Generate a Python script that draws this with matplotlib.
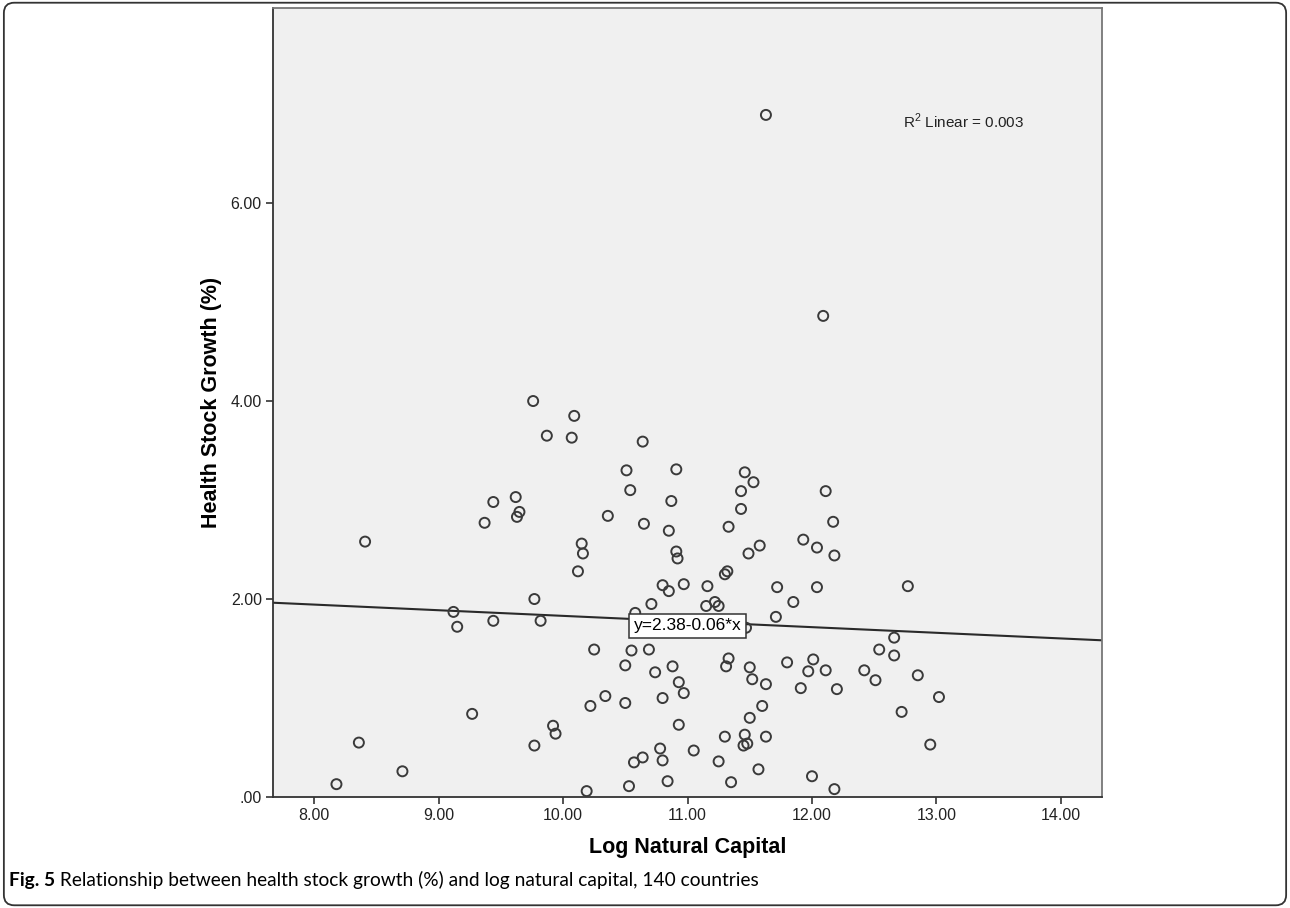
import numpy as np
import matplotlib
matplotlib.use("Agg")
import matplotlib.pyplot as plt
from matplotlib.patches import FancyBboxPatch
from matplotlib.ticker import FuncFormatter

plt.rcParams['font.family'] = ['Liberation Sans', 'DejaVu Sans']
plt.rcParams['mathtext.fontset'] = 'custom'
plt.rcParams['mathtext.rm'] = 'Liberation Sans'

# values (x = log natural capital, y = health stock growth %)
log_natural_capital = [
    9.76, 9.87, 10.09, 10.07, 10.64, 9.62, 9.44, 9.65, 9.63, 9.37,
    8.41, 9.12, 9.15, 9.44, 9.77, 9.82, 9.27, 9.92, 9.94, 9.77,
    8.36, 8.71, 8.18, 10.51, 10.91, 10.54, 10.87, 10.36, 10.65, 10.85,
    10.15, 10.16, 10.91, 10.92, 10.12, 10.80, 10.97, 11.16, 10.85, 11.46,
    11.53, 11.43, 11.43, 11.33, 11.58, 11.49, 12.11, 12.17, 11.93, 12.04,
    12.18, 11.32, 11.30, 11.72, 12.04, 10.71, 11.15, 11.22, 11.25, 10.58,
    11.47, 11.71, 11.85, 10.25, 10.55, 10.69, 10.50, 10.74, 10.88, 10.93,
    10.97, 10.34, 10.22, 10.50, 10.80, 10.93, 10.78, 10.80, 10.64, 10.57,
    11.05, 10.84, 10.53, 10.19, 11.33, 11.31, 11.50, 11.52, 11.63, 11.80,
    12.01, 11.97, 12.11, 11.91, 12.20, 11.60, 11.50, 11.30, 11.46, 11.48,
    11.45, 11.63, 11.25, 11.57, 11.35, 12.00, 12.18, 12.77, 12.66, 12.54,
    12.66, 12.42, 12.51, 12.85, 13.02, 12.72, 12.95, 11.63, 12.09,
]
health_stock_growth = [
    4.00, 3.65, 3.85, 3.63, 3.59, 3.03, 2.98, 2.88, 2.83, 2.77,
    2.58, 1.87, 1.72, 1.78, 2.00, 1.78, 0.84, 0.72, 0.64, 0.52,
    0.55, 0.26, 0.13, 3.30, 3.31, 3.10, 2.99, 2.84, 2.76, 2.69,
    2.56, 2.46, 2.48, 2.41, 2.28, 2.14, 2.15, 2.13, 2.08, 3.28,
    3.18, 3.09, 2.91, 2.73, 2.54, 2.46, 3.09, 2.78, 2.60, 2.52,
    2.44, 2.28, 2.25, 2.12, 2.12, 1.95, 1.93, 1.97, 1.93, 1.86,
    1.71, 1.82, 1.97, 1.49, 1.48, 1.49, 1.33, 1.26, 1.32, 1.16,
    1.05, 1.02, 0.92, 0.95, 1.00, 0.73, 0.49, 0.37, 0.40, 0.35,
    0.47, 0.16, 0.11, 0.06, 1.40, 1.32, 1.31, 1.19, 1.14, 1.36,
    1.39, 1.27, 1.28, 1.10, 1.09, 0.92, 0.80, 0.61, 0.63, 0.54,
    0.52, 0.61, 0.36, 0.28, 0.15, 0.21, 0.08, 2.13, 1.61, 1.49,
    1.43, 1.28, 1.18, 1.23, 1.01, 0.86, 0.53, 6.89, 4.86,
]

# fitted line as drawn in the picture
fit_intercept = 2.40
fit_slope = -0.057
fit_label = "y=2.38-0.06*x"
r2_label = r"R$^{2}$ Linear = 0.003"

x_ticks = [8, 9, 10, 11, 12, 13, 14]
y_ticks = [0, 2, 4, 6]
x_title = "Log Natural Capital"
y_title = "Health Stock Growth (%)"
caption_bold = "Fig. 5"
caption_rest = " Relationship between health stock growth (%) and log natural capital, 140 countries"

fig = plt.figure(figsize=(12.9, 9.08), dpi=100)
ax = fig.add_axes([0.2116, 0.1222, 0.6427, 0.869])
ax.set_facecolor('#f0f0f0')

ax.scatter(log_natural_capital, health_stock_growth, s=52, facecolors='none',
           edgecolors='#3a3a3a', linewidths=1.4, zorder=3)

ax.set_xlim(7.67, 14.33)
ax.set_ylim(0, 7.97)

xs = np.array(ax.get_xlim())
ax.plot(xs, fit_intercept + fit_slope * xs, color='#2a2a2a', lw=1.5, zorder=2)

ax.text(11.0, 1.73, fit_label, ha='center', va='center', fontsize=12.5, zorder=4,
        bbox=dict(boxstyle='square,pad=0.25', fc='white', ec='#333333', lw=1.1))
ax.text(12.73, 6.82, r2_label, ha='left', va='center', fontsize=11, color='#222222')

ax.set_xticks(x_ticks)
ax.set_yticks(y_ticks)
ax.xaxis.set_major_formatter(FuncFormatter(lambda v, _: f"{v:.2f}"))
ax.yaxis.set_major_formatter(FuncFormatter(lambda v, _: f"{v:.2f}".lstrip("0") if v < 1 else f"{v:.2f}"))
ax.tick_params(direction='out', length=5, width=1.2, color='#333333',
               labelsize=11.5, labelcolor='#222222', pad=3)

for side in ['left', 'bottom']:
    ax.spines[side].set_color('#333333')
    ax.spines[side].set_linewidth(1.3)
for side in ['top', 'right']:
    ax.spines[side].set_color('#777777')
    ax.spines[side].set_linewidth(1.3)

ax.set_xlabel(x_title, fontsize=15.5, fontweight='bold', labelpad=10)
ax.set_ylabel(y_title, fontsize=15.5, fontweight='bold', labelpad=6)

# caption under the chart, bold figure number then plain text
t1 = fig.text(0.007, 0.024, caption_bold, fontsize=13.8, fontweight='bold',
              family=['Lato', 'DejaVu Sans'], va='baseline')
fig.canvas.draw()
bb = t1.get_window_extent()
fig.text(bb.x1 / fig.bbox.width, 0.024, caption_rest, fontsize=13.8,
         family=['Lato', 'DejaVu Sans'], va='baseline')

# rounded panel frame
frame = FancyBboxPatch((0.003, 0.003), 0.994, 0.994, boxstyle="round,pad=0,rounding_size=0.008",
                       transform=fig.transFigure, fill=False, ec='#333333', lw=1.3,
                       mutation_aspect=1290 / 908)
fig.patches.append(frame)

fig.savefig("out.png", dpi=100)
